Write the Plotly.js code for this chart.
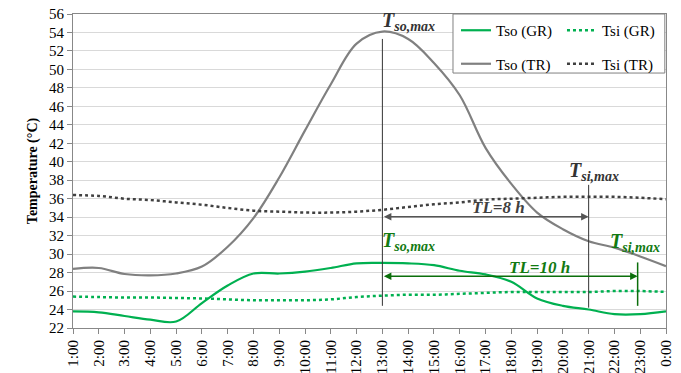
<!DOCTYPE html>
<html><head><meta charset="utf-8">
<script src="https://cdn.plot.ly/plotly-3.0.1.min.js"></script>
<style>html,body{margin:0;padding:0;background:#fff}#chart{width:681px;height:373px}</style>
</head><body><div id="chart"></div>
<script>
const hours = ['1:00','2:00','3:00','4:00','5:00','6:00','7:00','8:00','9:00','10:00','11:00','12:00','13:00','14:00','15:00','16:00','17:00','18:00','19:00','20:00','21:00','22:00','23:00','0:00'];
const tsoGR = [23.8,23.7,23.3,22.9,22.7,24.7,26.6,27.9,27.9,28.1,28.5,29.0,29.05,29.0,28.8,28.2,27.8,27.0,25.2,24.4,24.0,23.5,23.5,23.8];
const tsiGR = [25.4,25.35,25.3,25.3,25.25,25.2,25.1,25.0,25.0,25.0,25.1,25.35,25.5,25.6,25.6,25.7,25.8,25.9,25.9,25.9,25.9,26.0,26.0,25.9];
const tsoTR = [28.4,28.5,27.85,27.7,27.9,28.65,30.8,33.9,38.3,43.4,48.4,52.8,54.1,53.3,50.7,47.2,41.5,37.6,34.5,32.7,31.4,30.7,29.75,28.7];
const tsiTR = [36.4,36.3,36.0,35.85,35.6,35.35,35.0,34.7,34.6,34.5,34.5,34.6,34.8,35.1,35.4,35.6,35.9,36.0,36.1,36.2,36.2,36.2,36.1,35.95];
const seriesNames = ['Tso (GR)','Tsi (GR)','Tso (TR)','Tsi (TR)'];
// time-lag markers (category index positions)
const tsoMaxIdx = 12;       // 13:00
const tsiMaxTRIdx = 20;     // 21:00
const tsiMaxGRIdx = 21.9;   // ~22:54
const lagTR = 'TL=8 h', lagGR = 'TL=10 h';

const GREEN = '#00b050', GRAY = '#808080', DGRAY = '#404040', TXTG = '#127a12';
const FAM = 'Liberation Serif, Times New Roman, serif';
const tfont = (c,s)=>({family:FAM, size:s, color:c});

const traces = [
  {x:hours, y:tsoGR, name:seriesNames[0], legend:'legend', legendgroup:'a', legendrank:1, mode:'lines', line:{color:GREEN, width:2.2, shape:'spline', smoothing:1}},
  {x:hours, y:tsiGR, name:seriesNames[1], legend:'legend2', legendgroup:'c', legendrank:1, mode:'lines', line:{color:GREEN, width:2.5, dash:'dot', shape:'spline'}},
  {x:hours, y:tsoTR, name:seriesNames[2], legend:'legend', legendgroup:'b', legendrank:2, mode:'lines', line:{color:GRAY, width:2.2, shape:'spline', smoothing:1}},
  {x:hours, y:tsiTR, name:seriesNames[3], legend:'legend2', legendgroup:'d', legendrank:2, mode:'lines', line:{color:DGRAY, width:2.5, dash:'dot', shape:'spline'}}
];

const legendBase = {orientation:'v', y:1.0, yanchor:'top', xanchor:'left', bgcolor:'rgba(0,0,0,0)', borderwidth:0,
                    font:tfont('#000',15), tracegroupgap:11, itemclick:false};
const layout = {
  width:681, height:373,
  margin:{l:73, r:15, t:14, b:45},
  paper_bgcolor:'#fff', plot_bgcolor:'#fff',
  font:tfont('#000',14),
  showlegend:true,
  legend:Object.assign({}, legendBase, {x:0.6459}),
  legend2:Object.assign({}, legendBase, {x:0.8246}),
  xaxis:{type:'category', range:[0,23], showgrid:false, showline:true, linecolor:'#888', mirror:true,
         ticks:'outside', ticklen:5, tickcolor:'#888', tickangle:-90, tickfont:tfont('#000',15)},
  yaxis:{range:[22,56], dtick:2, showgrid:true, gridcolor:'#d9d9d9', showline:true, linecolor:'#888', mirror:true,
         ticks:'outside', ticklen:5, tickcolor:'#888', tickfont:tfont('#000',15), zeroline:false,
         title:{text:'<b>Temperature (°C)</b>', font:tfont('#000',14), standoff:8}},
  shapes:[
    {type:'rect', xref:'paper', yref:'paper', x0:0.6408, x1:0.998, y0:0.812, y1:1.0, fillcolor:'#fff', layer:'above',
     line:{color:'#808080', width:1}},
    {type:'line', xref:'x', yref:'y', x0:tsoMaxIdx, x1:tsoMaxIdx, y0:24.4, y1:53.3, line:{color:'#333', width:1}},
    {type:'line', xref:'x', yref:'y', x0:tsiMaxTRIdx, x1:tsiMaxTRIdx, y0:24.2, y1:37.5, line:{color:'#333', width:1}},
    {type:'line', xref:'x', yref:'y', x0:tsiMaxGRIdx, x1:tsiMaxGRIdx, y0:24.4, y1:29.1, line:{color:'#0b6e0b', width:1.5}}
  ],
  annotations:[
    {x:tsiMaxTRIdx, y:34.05, ax:tsoMaxIdx, ay:34.05, xref:'x', yref:'y', axref:'x', ayref:'y', text:'',
     showarrow:true, arrowside:'end+start', arrowhead:2, arrowsize:1, arrowwidth:1.5, arrowcolor:'#555'},
    {x:tsiMaxGRIdx, y:27.6, ax:tsoMaxIdx, ay:27.6, xref:'x', yref:'y', axref:'x', ayref:'y', text:'',
     showarrow:true, arrowside:'end+start', arrowhead:2, arrowsize:1, arrowwidth:1.5, arrowcolor:'#0b6e0b'},
    {x:tsoMaxIdx-0.1, y:55.2, xref:'x', yref:'y', xanchor:'left', yanchor:'middle', showarrow:false,
     text:'<b><i>T<sub>so,max</sub></i></b>', font:tfont('#333',20)},
    {x:tsiMaxTRIdx-0.85, y:38.9, xref:'x', yref:'y', xanchor:'left', yanchor:'middle', showarrow:false,
     text:'<b><i>T<sub>si,max</sub></i></b>', font:tfont('#333',20)},
    {x:16.5, y:35.1, xref:'x', yref:'y', xanchor:'center', yanchor:'middle', showarrow:false,
     text:'<b><i>'+lagTR+'</i></b>', font:tfont('#404040',17)},
    {x:tsoMaxIdx-0.1, y:31.4, xref:'x', yref:'y', xanchor:'left', yanchor:'middle', showarrow:false,
     text:'<b><i>T<sub>so,max</sub></i></b>', font:tfont(TXTG,20)},
    {x:18.1, y:28.6, xref:'x', yref:'y', xanchor:'center', yanchor:'middle', showarrow:false,
     text:'<b><i>'+lagGR+'</i></b>', font:tfont(TXTG,17)},
    {x:20.75, y:31.3, xref:'x', yref:'y', xanchor:'left', yanchor:'middle', showarrow:false,
     text:'<b><i>T<sub>si,max</sub></i></b>', font:tfont(TXTG,20)}
  ]
};
Plotly.newPlot('chart', traces, layout, {displayModeBar:false, staticPlot:true});
</script></body></html>
